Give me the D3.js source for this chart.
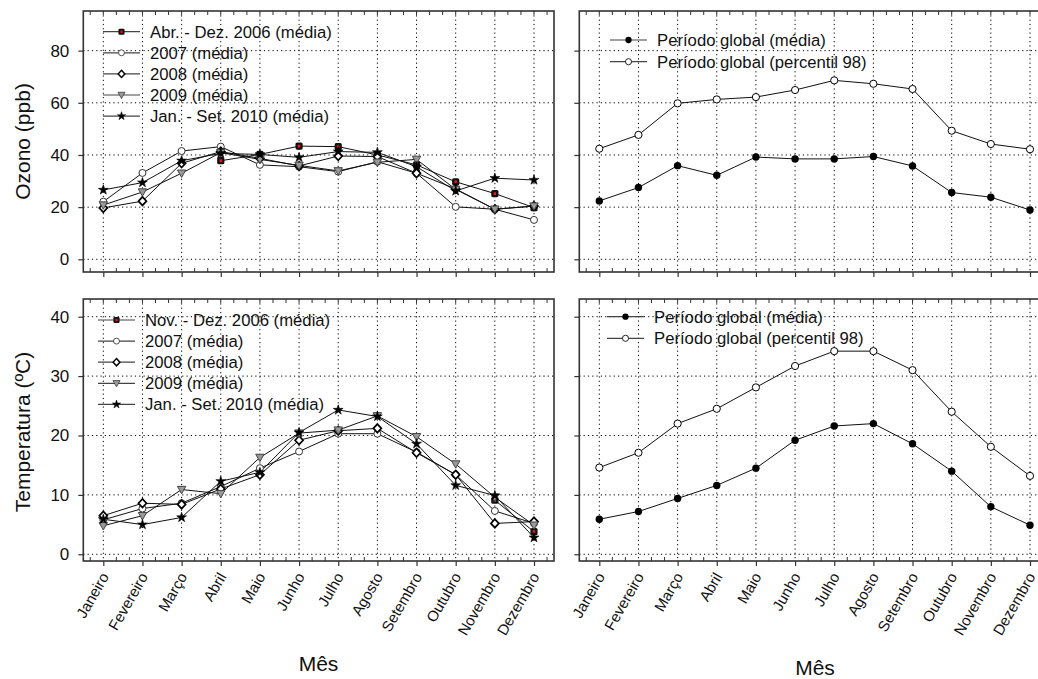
<!DOCTYPE html>
<html><head><meta charset="utf-8">
<script src="https://cdn.jsdelivr.net/npm/d3@7"></script>
<style>
body{margin:0;background:#fff;}
text{font-family:Arial,"Liberation Sans",sans-serif;fill:#111;}
</style></head>
<body>
<svg id="c" width="1038" height="679"></svg>
<script>
const months = ["Janeiro","Fevereiro","Março","Abril","Maio","Junho","Julho","Agosto","Setembro","Outubro","Novembro","Dezembro"];

// Ozone (ppb), monthly means per year
const oz2006 = [null,null,null,37.8,40.2,43.4,43.2,40.0,36.2,29.7,25.2,19.8];
const oz2007 = [22.1,33.1,41.5,43.2,36.2,35.5,33.6,37.4,33.0,20.1,19.2,15.1];
const oz2008 = [19.7,22.3,36.8,41.3,38.7,35.8,39.6,39.4,33.0,27.0,19.2,20.4];
const oz2009 = [20.8,25.8,33.0,40.9,38.3,36.0,33.9,37.2,38.3,26.8,19.2,20.4];
const oz2010 = [26.6,29.4,37.8,40.6,40.2,39.1,41.3,41.0,35.5,26.2,31.1,30.4];
// Ozone global period
const ozMedia = [22.4,27.5,35.9,32.2,39.2,38.5,38.5,39.4,35.8,25.6,23.8,18.9];
const ozP98 = [42.4,47.7,59.8,61.3,62.2,64.9,68.6,67.3,65.3,49.3,44.2,42.2];

// Temperature (ºC), monthly means per year
const t2006 = [null,null,null,null,null,null,null,null,null,null,9.1,3.8];
const t2007 = [5.8,7.7,8.6,11.4,14.5,17.3,20.3,20.3,17.2,13.4,7.3,5.2];
const t2008 = [6.5,8.6,8.4,11.0,13.4,19.2,20.8,21.2,17.1,13.4,5.2,5.5];
const t2009 = [4.8,6.5,10.9,10.2,16.3,20.4,20.9,23.3,19.8,15.2,9.6,4.9];
const t2010 = [5.9,5.0,6.2,12.3,13.8,20.5,24.3,23.2,18.6,11.6,9.9,2.8];
// Temperature global period
const tMedia = [5.9,7.2,9.4,11.6,14.5,19.2,21.6,22.0,18.6,14.0,8.0,4.9];
const tP98 = [14.6,17.1,22.0,24.5,28.1,31.7,34.2,34.2,31.0,24.0,18.1,13.2];

const ozTicks = [0,20,40,60,80];
const tTicks = [0,10,20,30,40];

const ozLegendYears = ["Abr. - Dez. 2006 (média)","2007 (média)","2008 (média)","2009 (média)","Jan. - Set. 2010 (média)"];
const tLegendYears = ["Nov. - Dez. 2006 (média)","2007 (média)","2008 (média)","2009 (média)","Jan. - Set. 2010 (média)"];
const globalLegend = ["Período global (média)","Período global (percentil 98)"];

const svg = d3.select("#c");

// marker drawers
function mk(g, type, x, y, small){
  const s = small ? 0.85 : 1;
  const tr = `translate(${x},${y}) scale(${s})`;
  if(type==="red"){
    g.append("rect").attr("x",-3.6).attr("y",-3.6).attr("width",7.2).attr("height",7.2).attr("rx",1.6)
      .attr("transform",tr).attr("fill","#111");
    g.append("rect").attr("x",-1.2).attr("y",-1.4).attr("width",2.4).attr("height",2.8).attr("transform",tr).attr("fill","#ff1010");
  } else if(type==="circle"){
    g.append("circle").attr("r",3.5).attr("transform",tr).attr("fill","#fff").attr("stroke","#333").attr("stroke-width",1);
  } else if(type==="diamond"){
    g.append("path").attr("d","M0,-4.3L4,0L0,4.3L-4,0Z").attr("transform",tr)
     .attr("fill","#fff").attr("stroke","#000").attr("stroke-width",1.7);
  } else if(type==="tri"){
    g.append("path").attr("d","M-4.2,-3.2L4.2,-3.2L0,4.2Z").attr("transform",tr)
     .attr("fill","#999").attr("stroke","#444").attr("stroke-width",1);
  } else if(type==="star"){
    g.append("path").attr("d",d3.symbol(d3.symbolStar, 30)()).attr("transform",tr)
     .attr("fill","#000").attr("stroke","#000").attr("stroke-width",0.6);
  } else if(type==="filled"){
    g.append("circle").attr("r",3.7).attr("transform",tr).attr("fill","#000");
  } else if(type==="open"){
    g.append("circle").attr("r",3.6).attr("transform",tr).attr("fill","#fff").attr("stroke","#000").attr("stroke-width",1);
  }
}

function panel(o){
  const g = svg.append("g");
  const x = d3.scalePoint().domain(months).range([o.xJan, o.xJan + 430.7]);
  const idx = d3.scaleLinear().domain([0,11]).range([o.xJan, o.xJan + 430.7]);
  const x0 = o.xJan - 20, x1 = o.xJan + 450.7;
  const y = d3.scaleLinear().domain(o.yDom).range([o.y1, o.y0]);

  // grid
  const grid = g.append("g").attr("stroke","#000").attr("stroke-width",1).attr("stroke-dasharray","1.2,3.1");
  o.ticks.forEach(t=>{ grid.append("line").attr("x1",x0).attr("x2",x1).attr("y1",y(t)).attr("y2",y(t)); });
  months.forEach(m=>{ grid.append("line").attr("x1",x(m)).attr("x2",x(m)).attr("y1",o.y0).attr("y2",o.y1); });

  // minor ticks
  const minor = d3.range(-1, 35).map(i=>i/3);
  const tk = g.append("g").attr("stroke","#333").attr("stroke-width",1);
  minor.forEach(v=>{
    const px = idx(v);
    if(px < x0+1 || px > x1-1) return;
    tk.append("line").attr("x1",px).attr("x2",px).attr("y1",o.y0).attr("y2",o.y0+4);
    if(Math.abs(v-Math.round(v))>0.01)
      tk.append("line").attr("x1",px).attr("x2",px).attr("y1",o.y1).attr("y2",o.y1-4);
  });

  // y axis
  const ya = g.append("g").attr("transform",`translate(${x0},0)`)
    .call(d3.axisLeft(y).tickValues(o.ticks).tickSize(5).tickPadding(9).tickFormat(o.showY ? d3.format("d") : ()=>""));
  ya.select(".domain").remove();
  ya.selectAll(".tick line").attr("stroke","#333").attr("stroke-width",1.2);
  ya.selectAll(".tick text").style("font-size","17px").attr("fill","#111");

  // x axis
  const xa = g.append("g").attr("transform",`translate(0,${o.y1})`)
    .call(d3.axisBottom(x).tickSize(5).tickFormat(""));
  xa.select(".domain").remove();
  xa.selectAll(".tick line").attr("stroke","#333").attr("stroke-width",1.2);
  if(o.showX){
    const lab = g.append("g");
    months.forEach(m=>{
      lab.append("text").attr("transform",`translate(${x(m)+1.5},${o.y1+13}) rotate(-60)`)
        .attr("text-anchor","end").attr("dy","0.35em").style("font-size","15px").text(m);
    });
  }

  // frame
  g.append("rect").attr("x",x0).attr("y",o.y0).attr("width",x1-x0).attr("height",o.y1-o.y0)
    .attr("fill","none").attr("stroke","#333").attr("stroke-width",1.6);

  // series
  const line = d3.line().defined(d=>d.v!==null).x(d=>x(d.m)).y(d=>y(d.v));
  o.series.forEach(s=>{
    const pts = s.data.map((v,i)=>({m:months[i], v}));
    g.append("path").attr("d",line(pts)).attr("fill","none").attr("stroke",s.line||"#111").attr("stroke-width",1);
  });
  o.series.forEach(s=>{
    const mg = g.append("g");
    s.data.forEach((v,i)=>{ if(v!==null) mk(mg, s.type, x(months[i]), y(v), false); });
  });

  // legend
  const lg = g.append("g");
  o.series.forEach((s,i)=>{
    const ly = o.leg.y + i*o.leg.dy;
    lg.append("line").attr("x1",o.leg.x).attr("x2",o.leg.x+37).attr("y1",ly).attr("y2",ly).attr("stroke","#444").attr("stroke-width",1.2);
    mk(lg, s.type, o.leg.x+18.5, ly, true);
    lg.append("text").attr("x",o.leg.x+47).attr("y",ly).attr("dy","0.35em").style("font-size","16.7px").text(s.label);
  });
  return g;
}

const topY = {y0:11, y1:272};
const botY = {y0:299, y1:561};
const ozDom = [-4.87, 95.2];
const tDom = [-1.13, 42.98];

panel({xJan:103.3, y0:topY.y0, y1:topY.y1, yDom:ozDom, ticks:ozTicks, showY:true, showX:false,
  leg:{x:103, y:31.7, dy:21.1},
  series:[
    {data:oz2006,type:"red",label:ozLegendYears[0]},
    {data:oz2007,type:"circle",label:ozLegendYears[1]},
    {data:oz2008,type:"diamond",label:ozLegendYears[2]},
    {data:oz2009,type:"tri",label:ozLegendYears[3]},
    {data:oz2010,type:"star",label:ozLegendYears[4]}
  ]});
panel({xJan:103.3, y0:botY.y0, y1:botY.y1, yDom:tDom, ticks:tTicks, showY:true, showX:true,
  leg:{x:98, y:320, dy:21.1},
  series:[
    {data:t2006,type:"red",label:tLegendYears[0]},
    {data:t2007,type:"circle",label:tLegendYears[1]},
    {data:t2008,type:"diamond",label:tLegendYears[2]},
    {data:t2009,type:"tri",label:tLegendYears[3]},
    {data:t2010,type:"star",label:tLegendYears[4]}
  ]});
panel({xJan:599.3, y0:topY.y0, y1:topY.y1, yDom:ozDom, ticks:ozTicks, showY:false, showX:false,
  leg:{x:610, y:40, dy:21.7},
  series:[
    {data:ozMedia,type:"filled",label:globalLegend[0]},
    {data:ozP98,type:"open",label:globalLegend[1]}
  ]});
panel({xJan:599.3, y0:botY.y0, y1:botY.y1, yDom:tDom, ticks:tTicks, showY:false, showX:true,
  leg:{x:607, y:316.7, dy:21.6},
  series:[
    {data:tMedia,type:"filled",label:globalLegend[0]},
    {data:tP98,type:"open",label:globalLegend[1]}
  ]});

// axis titles
svg.append("text").attr("transform","translate(30,141.5) rotate(-90)").attr("text-anchor","middle").style("font-size","21px").text("Ozono (ppb)");
svg.append("text").attr("transform","translate(30,432) rotate(-90)").attr("text-anchor","middle").style("font-size","21px").text("Temperatura (ºC)");
svg.append("text").attr("x",318.5).attr("y",671).attr("text-anchor","middle").style("font-size","21px").text("Mês");
svg.append("text").attr("x",815).attr("y",675).attr("text-anchor","middle").style("font-size","21px").text("Mês");
</script>
</body></html>
